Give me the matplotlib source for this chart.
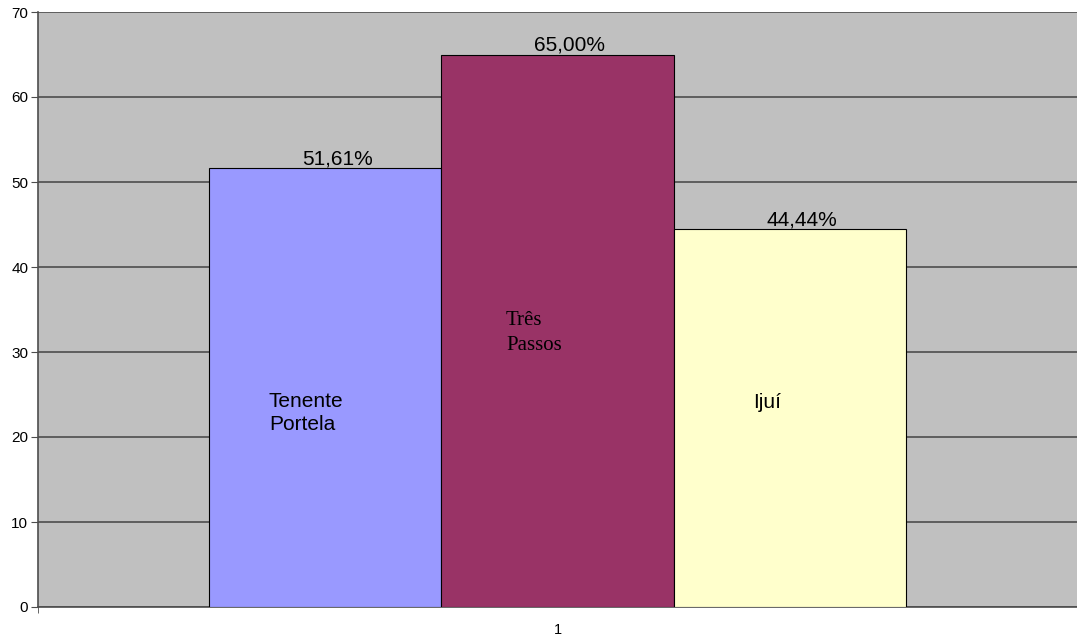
import matplotlib
matplotlib.use("Agg")
import matplotlib.pyplot as plt

cities = ["Tenente\nPortela", "Três\nPassos", "Ijuí"]
values = [51.61, 65.00, 44.44]
colors = ["#9999FF", "#993366", "#FFFFCC"]
value_labels = ["51,61%", "65,00%", "44,44%"]
yticks = [0, 10, 20, 30, 40, 50, 60, 70]
category = "1"

plt.rcParams["font.family"] = ["Liberation Sans", "DejaVu Sans"]

fig = plt.figure(figsize=(10.77, 6.39), dpi=100)
ax = fig.add_axes([38 / 1077, 1 - 607 / 639, 1 - 38 / 1077, (607 - 12) / 639])
ax.set_facecolor("#C0C0C0")

w = 0.2233
offsets = [-w, 0, w]
for off, v, c, lab in zip(offsets, values, colors, value_labels):
    ax.bar(1 + off, v, width=w, color=c, edgecolor="black", linewidth=0.8, zorder=3)
    ax.annotate(lab, (1 + off, v), xytext=(12, 4), textcoords="offset pixels",
                ha="center", va="baseline", fontsize=15, zorder=4)

# city names inside bars: left x, first baseline, line step, font
name_style = [
    (0.7223, 23.53, 2.71, ["Liberation Sans", "DejaVu Sans"]),
    (0.9505, 33.18, 2.94, ["Liberation Serif", "DejaVu Serif"]),
    (1.188, 23.41, 2.71, ["Liberation Sans", "DejaVu Sans"]),
]
for name, (x, y0, step, fam) in zip(cities, name_style):
    for i, line in enumerate(name.split("\n")):
        ax.text(x, y0 - i * step, line, ha="left", va="baseline", fontsize=15,
                family=fam, zorder=4)

ax.set_xlim(0.5, 1.5)
ax.set_ylim(0, 70)
ax.set_yticks(yticks)
ax.yaxis.grid(True, color="#4d4d4d", linewidth=1.2, zorder=1)
ax.set_axisbelow(True)
ax.set_xticks([1])
ax.set_xticklabels([category])
ax.set_xticks([0.5, 1.5], minor=True)
ax.tick_params(axis="x", which="major", length=0, pad=11.5, labelsize=10.5)
ax.tick_params(axis="x", which="minor", length=4, color="#4d4d4d")
ax.tick_params(axis="y", length=5, color="#4d4d4d", labelsize=11, pad=2)

for s in ["top", "right"]:
    ax.spines[s].set_visible(False)
for s in ["left", "bottom"]:
    ax.spines[s].set_color("#4d4d4d")
    ax.spines[s].set_linewidth(1.2)

fig.savefig("out.png", dpi=100)
